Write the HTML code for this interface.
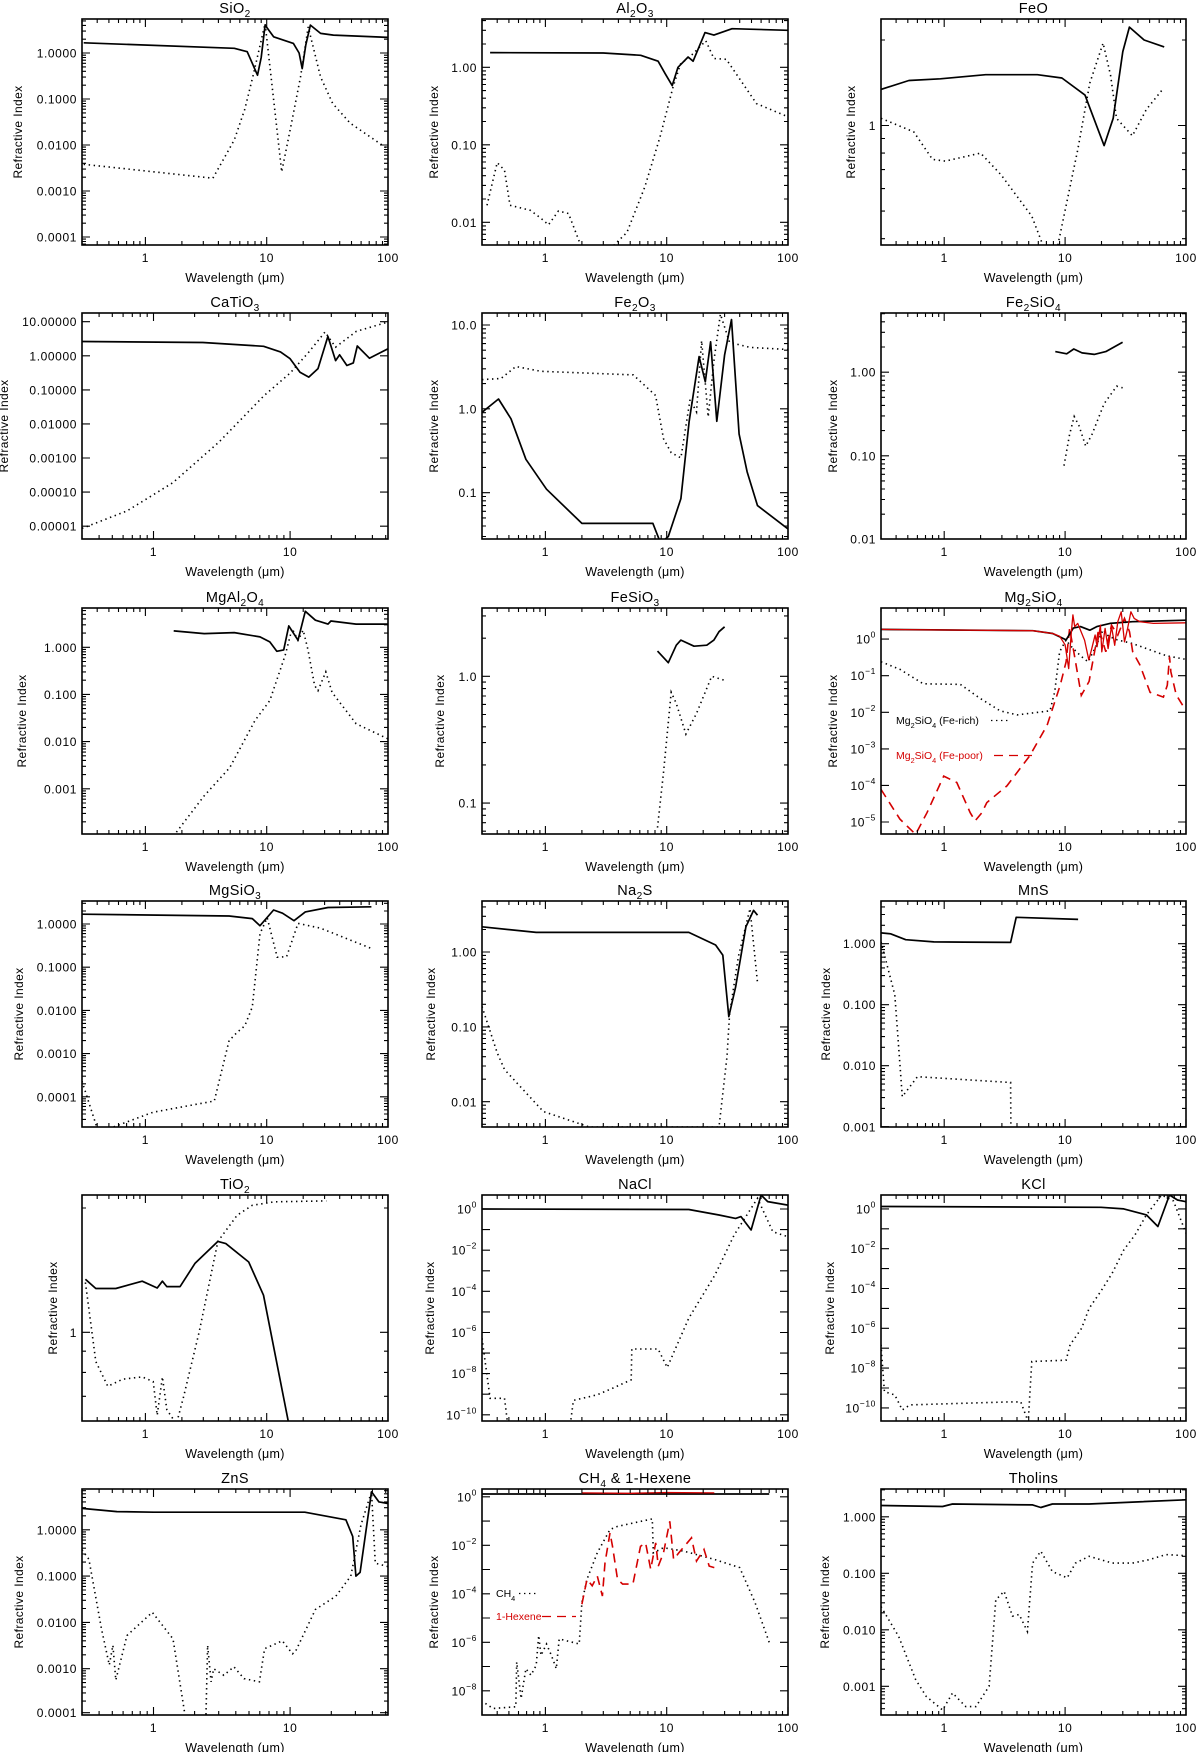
<!DOCTYPE html>
<html><head><meta charset="utf-8"><title>Refractive indices</title>
<style>
html,body{margin:0;padding:0;background:#fff;}
svg{display:block;font-family:"Liberation Sans",sans-serif;}
</style></head>
<body>
<svg id="fig" xmlns="http://www.w3.org/2000/svg" width="1200" height="1752" viewBox="0 0 1200 1752"></svg>
<script>
// ---------- data (wavelength in micron, refractive index n (solid) and k (dotted)) ----------
const sio2_n_wl=[0.31,5.4,6.9,7.6,8.4,9.0,9.7,11.4,16.6,18.5,19.6,21,22.9,27.8,35.5,100];
const sio2_n=[1.67,1.27,1.07,0.6,0.33,0.8,4.06,2.26,1.62,1.0,0.46,1.5,4.06,2.68,2.46,2.19];
const sio2_k_wl=[0.31,3.6,5.4,6.6,7.8,9.7,13.3,16,19,22,27.8,35,48.7,97];
const sio2_k=[0.0038,0.0019,0.0129,0.06,0.36,4.4,0.0026,0.03,0.3,3.7,0.3,0.08,0.03,0.0086];

const al2o3_n_wl=[0.35,3,6.1,8.5,9.7,11.1,12.4,15,16.5,20.7,24.5,34.6,100];
const al2o3_n=[1.55,1.53,1.43,1.2,0.83,0.58,1.0,1.36,1.2,2.8,2.6,3.15,3.0];
const al2o3_k_wl=[0.33,0.40,0.46,0.51,0.75,0.91,1.06,1.28,1.55,1.9,2.1,3.5,4.7,6.6,8.8,11.3,13,16.5,21,24.5,31,55,100];
const al2o3_k=[0.0166,0.059,0.047,0.0166,0.0143,0.0114,0.0093,0.014,0.013,0.0057,0.004,0.0047,0.0074,0.0286,0.126,0.56,1.1,1.5,2.2,1.3,1.27,0.34,0.23];

const feo_n_wl=[0.3,0.51,0.93,2.2,5.9,9.4,14.6,21,25,30,34,45,66];
const feo_n=[1.34,1.44,1.46,1.51,1.51,1.47,1.28,0.85,1.06,1.82,2.22,2.0,1.89];
const feo_k_wl=[0.3,0.56,0.8,1.02,2.0,2.96,5.3,6.7,8.6,12.7,16,20.6,23.8,26.6,36,47,64];
const feo_k=[1.06,0.95,0.76,0.75,0.80,0.67,0.48,0.37,0.37,0.82,1.41,1.95,1.5,1.06,0.92,1.14,1.34];

const catio3_n_wl=[0.3,2.3,6.4,8.5,10,11.8,13.7,16,18.9,21.5,23,26,29,31,38,52];
const catio3_n=[2.63,2.45,1.9,1.3,0.82,0.33,0.236,0.42,3.7,0.72,1.07,0.52,0.62,1.93,0.85,1.6];
const catio3_k_wl=[0.3,0.64,1.39,3.0,6.45,10,13.7,18,21.5,30.5,52];
const catio3_k=[8.6e-6,2.8e-5,1.9e-4,2.9e-3,0.068,0.31,1.28,5.0,1.8,5.2,9.8];

const fe2o3_n_wl=[0.3,0.41,0.52,0.69,1.02,2.0,7.7,8.9,10.3,13.1,15.3,18.5,20.8,23,25.9,30,34.2,39.5,46,56,100];
const fe2o3_n=[0.91,1.31,0.76,0.25,0.11,0.043,0.043,0.025,0.03,0.085,0.7,4.2,2.1,6.3,0.71,4.4,11.6,0.5,0.178,0.07,0.037];
const fe2o3_k_wl=[0.3,0.43,0.57,0.92,5.3,8.1,9.4,10.9,13.1,15.6,17.6,19.4,22,24.6,27.7,33,48.6,100];
const fe2o3_k=[2.23,2.3,3.2,2.8,2.54,1.44,0.44,0.30,0.26,1.3,0.92,6.5,0.8,3.9,13.5,6.2,5.4,5.1];

const fe2sio4_n_wl=[8.3,10.3,11.8,13.8,17.4,21.7,29.9];
const fe2sio4_n=[1.76,1.66,1.89,1.7,1.63,1.76,2.28];
const fe2sio4_k_wl=[9.8,10.9,11.9,13,14.8,16.7,21,26.7,29.9];
const fe2sio4_k=[0.076,0.18,0.295,0.23,0.13,0.18,0.42,0.68,0.65];

const mgal2o4_n_wl=[1.71,3.05,5.4,8.8,10.6,12.1,13.8,15.2,18.1,20.8,25.2,32,33.8,54.6,100];
const mgal2o4_n=[2.22,1.95,2.05,1.66,1.3,0.82,0.88,2.84,1.41,5.8,3.75,3.1,3.6,3.1,3.1];
const mgal2o4_k_wl=[1.8,3.05,4.95,8.0,10.6,14.2,16.2,18.1,20,21.9,24.8,26.5,30.7,34.6,54.6,100];
const mgal2o4_k=[1.2e-4,7.1e-4,2.8e-3,0.028,0.074,0.68,2.5,1.4,2.3,0.88,0.155,0.12,0.3,0.11,0.024,0.0114];

const fesio3_n_wl=[8.4,10.3,12,13.1,16.8,21.4,24.5,27,30];
const fesio3_n=[1.58,1.28,1.76,1.93,1.73,1.76,1.93,2.25,2.46];
const fesio3_k_wl=[8.4,9.4,10.9,12,14.4,17.6,23.5,30];
const fesio3_k=[0.064,0.174,0.75,0.61,0.35,0.51,1.0,0.93];

const mg2sio4_rich_n_wl=[0.3,5.4,7.9,9.6,10.2,11.7,13.4,16,18.3,23.5,36,100];
const mg2sio4_rich_n=[1.85,1.7,1.43,1.05,0.95,2.0,2.2,1.75,2.2,2.7,3.0,3.3];
const mg2sio4_rich_k_wl=[0.3,0.43,0.67,1.36,1.98,2.9,4.0,7.5,8.2,9.0,10.2,10.9,13.4,15.5,18.0,20.6,22.9,27,36,69,100];
const mg2sio4_rich_k=[0.24,0.15,0.06,0.058,0.024,0.011,0.0085,0.011,0.036,0.45,0.95,0.7,0.35,0.24,0.64,1.8,1.2,0.95,0.76,0.35,0.28];
const mg2sio4_poor_n_wl=[0.3,5.4,7.9,9.0,9.99,10.7,11.2,11.6,12.0,12.7,14.5,15.7,16.5,17.7,18.4,19.6,20.1,21.4,22.7,24.2,25.7,27.3,29.1,31,32.9,35,37.3,41.5,53.7,100];
const mg2sio4_poor_n=[1.85,1.7,1.43,1.2,0.7,0.156,1.3,4.6,2.2,2.7,0.93,0.27,0.5,1.3,0.62,2.4,0.45,1.97,0.55,2.2,0.68,3.0,5.6,0.84,1.97,5.6,3.7,3.0,2.7,2.8];
const mg2sio4_poor_k_wl=[0.3,0.43,0.58,0.72,0.99,1.27,1.64,1.8,2.05,2.25,3.3,5.1,7.1,9.1,10.2,10.9,11.8,13.6,15.8,17.3,19,21.7,24.2,27.3,31,34.1,36.2,41.5,50.5,65,70,73,75,83,100];
const mg2sio4_poor_k=[7.8e-5,1.2e-5,4.6e-6,1.8e-5,1.8e-4,1.2e-4,1.8e-5,1.07e-5,1.8e-5,3.4e-5,9.7e-5,6.5e-4,4.4e-3,0.055,0.24,1.97,0.45,0.029,0.07,0.36,1.97,0.45,2.4,1.29,3.7,1.6,0.45,0.2,0.035,0.026,0.055,0.33,0.126,0.03,0.011];

const mgsio3_n_wl=[0.3,4.9,7.6,8.8,11.4,13.5,16.8,20.8,32,73];
const mgsio3_n=[1.68,1.53,1.33,0.91,2.1,1.77,1.19,1.9,2.4,2.5];
const mgsio3_k_wl=[0.3,0.41,0.57,1.16,3.7,4.9,5.7,6.6,7.6,8.8,10.1,12.2,14.6,18.1,27.8,73];
const mgsio3_k=[2.3e-4,1.5e-5,2.1e-5,4.4e-5,8e-5,2e-3,3.1e-3,4.4e-3,0.012,0.6,1.4,0.17,0.175,1.03,0.8,0.27];

const na2s_n_wl=[0.3,0.84,15.2,25.3,29,32.5,37,45,52,56];
const na2s_n=[2.17,1.83,1.83,1.24,0.91,0.137,0.34,2.17,3.6,3.1];
const na2s_k_wl=[0.3,0.4,0.46,0.96,2.3,27,31.4,33,39,48.6,56];
const na2s_k=[0.187,0.045,0.027,7.4e-3,4.6e-3,4.6e-3,0.04,0.15,0.87,3.8,0.39];

const mns_n_wl=[0.3,0.36,0.48,0.82,1.44,3.54,3.94,12.8];
const mns_n=[1.5,1.45,1.16,1.07,1.06,1.05,2.7,2.5];
const mns_k_wl=[0.3,0.39,0.45,0.6,3.54,3.56];
const mns_k=[1.07,0.146,3.1e-3,6.6e-3,5.3e-3,9e-4];

const tio2_n_wl=[0.32,0.39,0.57,0.94,1.25,1.38,1.5,1.93,2.57,3.96,4.6,7.1,9.4,15.2];
const tio2_n=[1.345,1.277,1.277,1.33,1.28,1.33,1.29,1.29,1.47,1.66,1.64,1.48,1.23,0.6];
const tio2_k_wl=[0.32,0.39,0.49,0.65,0.94,1.16,1.25,1.38,1.5,1.8,2.07,2.77,3.96,5.7,7.6,11.6,31];
const tio2_k=[1.32,0.85,0.74,0.77,0.78,0.76,0.63,0.78,0.65,0.6,0.70,1.0,1.66,1.92,2.03,2.07,2.08];

const nacl_n_wl=[0.3,15.2,27,37,41,49.6,60,68,100];
const nacl_n=[1.0,0.95,0.51,0.35,0.43,0.096,4.8,2.3,1.55];
const nacl_k_wl=[0.3,0.35,0.46,0.49,1.6,1.7,2.67,3.6,5.1,5.15,8.5,10.1,15.2,25,36,56,75,100];
const nacl_k_log10=[-6.28,-9.2,-9.2,-10.5,-10.5,-9.3,-9.03,-8.7,-8.3,-6.8,-6.8,-7.7,-5.3,-3.2,-1.26,0.52,-1.1,-1.35];

const kcl_n_wl=[0.3,19.8,30.6,47,58.6,73,85,100];
const kcl_n=[1.32,1.2,1.0,0.5,0.13,5,2.8,2.3];
const kcl_k_wl=[0.3,0.32,0.39,0.45,0.52,3.45,4.3,4.95,5.3,10.2,11,13.7,15.8,19.7,24.5,30.6,37.9,47,63,78.6,100];
const kcl_k_log10=[-6.83,-9.18,-9.35,-10.1,-9.85,-9.7,-9.7,-10.7,-7.67,-7.6,-6.83,-6,-5,-4.15,-3.23,-2.06,-1.3,-0.3,0.7,0.4,-1.22];

const zns_n_wl=[0.3,0.54,1,12.8,25.6,28.7,30.3,32.5,39.4,44.6,52];
const zns_n=[2.9,2.47,2.4,2.4,1.64,0.72,0.1,0.12,6.6,4.0,3.7];
const zns_k_wl=[0.3,0.337,0.417,0.475,0.505,0.53,0.64,0.98,1.39,1.72,2.42,2.49,2.64,2.76,3.27,3.88,4.6,5.96,6.5,8.77,10.4,10.9,15.3,21.6,27.8,33,39.4,42,52];
const zns_k=[0.37,0.23,7.2e-3,1.2e-3,3.2e-3,5.7e-4,5.2e-3,0.0165,4.4e-3,8e-5,8e-5,3.2e-3,5.2e-4,1.0e-3,7.2e-4,1.1e-3,6.1e-4,5.2e-4,2.7e-3,4e-3,2.1e-3,2.3e-3,0.019,0.037,0.1,1.28,6.6,0.19,0.16];

const ch4_n_wl=[0.3,70];
const ch4_n=[1.3,1.3];
const hexene_n_wl=[2.0,5,10,24.7];
const hexene_n=[1.45,1.4,1.5,1.45];
const ch4_k_wl=[0.32,0.37,0.57,0.58,0.63,0.69,0.76,0.84,0.88,0.92,1.02,1.12,1.23,1.3,1.9,2.0,2.2,2.68,3.41,3.93,7.6,7.75,9.4,13.8,24.7,40,53.4,70];
const ch4_k_log10=[-8.52,-8.73,-8.66,-6.82,-8.32,-7.09,-7.36,-6.95,-5.72,-6.54,-6.07,-6.54,-7.09,-5.86,-6.07,-4.36,-3.4,-2.31,-1.35,-1.22,-0.91,-2.31,-2.1,-2.24,-2.58,-2.92,-4.36,-6.0];
const hexene_k_wl=[2.0,2.2,2.43,2.68,2.95,3.1,3.41,3.57,3.93,4.33,5.26,6.08,6.7,7.38,8.12,8.52,9.4,10.6,11.4,12.6,16.0,17.6,20.3,22.4,24.7];
const hexene_k_log10=[-4.43,-3.4,-3.67,-3.27,-4.09,-2.72,-1.49,-2.04,-3.4,-3.6,-3.6,-2.04,-1.9,-2.99,-1.9,-2.86,-2.31,-1.01,-2.58,-2.31,-1.69,-2.65,-2.17,-2.86,-2.92];

const tholins_n_wl=[0.3,0.97,1.17,5.38,6.29,7.85,15.8,36,100];
const tholins_n=[1.58,1.52,1.68,1.62,1.46,1.68,1.68,1.82,2.0];
const tholins_k_wl=[0.3,0.42,0.58,0.71,0.97,1.17,1.51,1.83,2.35,2.67,3.13,3.67,4.17,4.88,5.38,6.29,7.85,10.4,12.2,15.8,24.6,36,49.5,68,100];
const tholins_k_log10=[-1.59,-2.12,-2.88,-3.18,-3.42,-3.12,-3.36,-3.36,-3.0,-1.47,-1.32,-1.76,-1.73,-2.03,-0.82,-0.61,-0.97,-1.08,-0.82,-0.7,-0.82,-0.82,-0.76,-0.67,-0.69];

const fromLog = a => a.map(v => Math.pow(10, v));

// ---------- panel layout ----------
const COLS=[82,482,881], ROWS=[19,313,608,901,1195,1489], PW=306, PH=226;
const panels=[
 {id:'sio2',t:'SiO_2',c:0,r:0,x:[0.3,100],y:[6.7e-5,5.5],yo:60,yt:[[1,'1.0000'],[0.1,'0.1000'],[0.01,'0.0100'],[0.001,'0.0010'],[1e-4,'0.0001']],s:[[sio2_k_wl,sio2_k,'dot'],[sio2_n_wl,sio2_n,'solid']]},
 {id:'al2o3',t:'Al_2O_3',c:1,r:0,x:[0.3,100],y:[0.0051,4.2],yo:44,yt:[[1,'1.00'],[0.1,'0.10'],[0.01,'0.01']],s:[[al2o3_k_wl,al2o3_k,'dot'],[al2o3_n_wl,al2o3_n,'solid']]},
 {id:'feo',t:'FeO',c:2,r:0,x:[0.3,100],y:[0.38,2.37],yo:26,yt:[[1,'1']],s:[[feo_k_wl,feo_k,'dot'],[feo_n_wl,feo_n,'solid']]},
 {id:'catio3',t:'CaTiO_3',c:0,r:1,x:[0.3,52],y:[4.2e-6,18],yo:74,yt:[[10,'10.00000'],[1,'1.00000'],[0.1,'0.10000'],[0.01,'0.01000'],[0.001,'0.00100'],[1e-4,'0.00010'],[1e-5,'0.00001']],s:[[catio3_k_wl,catio3_k,'dot'],[catio3_n_wl,catio3_n,'solid']]},
 {id:'fe2o3',t:'Fe_2O_3',c:1,r:1,x:[0.3,100],y:[0.028,13.9],yo:44,yt:[[10,'10.0'],[1,'1.0'],[0.1,'0.1']],s:[[fe2o3_k_wl,fe2o3_k,'dot'],[fe2o3_n_wl,fe2o3_n,'solid']]},
 {id:'fe2sio4',t:'Fe_2SiO_4',c:2,r:1,x:[0.3,100],y:[0.0101,5.1],yo:44,yt:[[1,'1.00'],[0.1,'0.10'],[0.0101,'0.01']],s:[[fe2sio4_k_wl,fe2sio4_k,'dot'],[fe2sio4_n_wl,fe2sio4_n,'solid']]},
 {id:'mgal2o4',t:'MgAl_2O_4',c:0,r:2,x:[0.3,100],y:[1.1e-4,6.8],yo:56,yt:[[1,'1.000'],[0.1,'0.100'],[0.01,'0.010'],[0.001,'0.001']],s:[[mgal2o4_k_wl,mgal2o4_k,'dot'],[mgal2o4_n_wl,mgal2o4_n,'solid']]},
 {id:'fesio3',t:'FeSiO_3',c:1,r:2,x:[0.3,100],y:[0.057,3.46],yo:38,yt:[[1,'1.0'],[0.1,'0.1']],s:[[fesio3_k_wl,fesio3_k,'dot'],[fesio3_n_wl,fesio3_n,'solid']]},
 {id:'mg2sio4',t:'Mg_2SiO_4',c:2,r:2,x:[0.3,100],y:[4.7e-6,7.1],yo:44,yt:[[1,0],[0.1,-1],[0.01,-2],[0.001,-3],[1e-4,-4],[1e-5,-5]],s:[[mg2sio4_rich_k_wl,mg2sio4_rich_k,'dot'],[mg2sio4_poor_k_wl,mg2sio4_poor_k,'rdash'],[mg2sio4_rich_n_wl,mg2sio4_rich_n,'solid'],[mg2sio4_poor_n_wl,mg2sio4_poor_n,'rsolid']]},
 {id:'mgsio3',t:'MgSiO_3',c:0,r:3,x:[0.3,100],y:[2e-5,3.4],yo:59,yt:[[1,'1.0000'],[0.1,'0.1000'],[0.01,'0.0100'],[0.001,'0.0010'],[1e-4,'0.0001']],s:[[mgsio3_k_wl,mgsio3_k,'dot'],[mgsio3_n_wl,mgsio3_n,'solid']]},
 {id:'na2s',t:'Na_2S',c:1,r:3,x:[0.3,100],y:[0.0046,4.8],yo:47,yt:[[1,'1.00'],[0.1,'0.10'],[0.01,'0.01']],s:[[na2s_k_wl,na2s_k,'dot'],[na2s_n_wl,na2s_n,'solid']]},
 {id:'mns',t:'MnS',c:2,r:3,x:[0.3,100],y:[0.00099,5],yo:51,yt:[[1,'1.000'],[0.1,'0.100'],[0.01,'0.010'],[0.00099,'0.001']],s:[[mns_k_wl,mns_k,'dot'],[mns_n_wl,mns_n,'solid']]},
 {id:'tio2',t:'TiO_2',c:0,r:4,x:[0.3,100],y:[0.61,2.15],yo:25,yt:[[1,'1']],s:[[tio2_k_wl,tio2_k,'dot'],[tio2_n_wl,tio2_n,'solid']]},
 {id:'nacl',t:'NaCl',c:1,r:4,x:[0.3,100],y:[5e-11,4.8],yo:48,yt:[[1,0],[1e-2,-2],[1e-4,-4],[1e-6,-6],[1e-8,-8],[1e-10,-10]],s:[[nacl_k_wl,fromLog(nacl_k_log10),'dot'],[nacl_n_wl,nacl_n,'solid']]},
 {id:'kcl',t:'KCl',c:2,r:4,x:[0.3,100],y:[2.2e-11,5],yo:47,yt:[[1,0],[1e-2,-2],[1e-4,-4],[1e-6,-6],[1e-8,-8],[1e-10,-10]],s:[[kcl_k_wl,fromLog(kcl_k_log10),'dot'],[kcl_n_wl,kcl_n,'solid']]},
 {id:'zns',t:'ZnS',c:0,r:5,x:[0.3,52],y:[1e-4,7.6],yo:59,yt:[[1,'1.0000'],[0.1,'0.1000'],[0.01,'0.0100'],[0.001,'0.0010'],[1.12e-4,'0.0001']],s:[[zns_k_wl,zns_k,'dot'],[zns_n_wl,zns_n,'solid']]},
 {id:'ch4',t:'CH_4 & 1-Hexene',c:1,r:5,x:[0.3,100],y:[1e-9,2.1],yo:44,yt:[[1,0],[1e-2,-2],[1e-4,-4],[1e-6,-6],[1e-8,-8]],s:[[ch4_k_wl,fromLog(ch4_k_log10),'dot'],[hexene_k_wl,fromLog(hexene_k_log10),'rdash'],[ch4_n_wl,ch4_n,'solid'],[hexene_n_wl,hexene_n,'rsolid']]},
 {id:'tholins',t:'Tholins',c:2,r:5,x:[0.3,100],y:[3.1e-4,3.1],yo:52,yt:[[1,'1.000'],[0.1,'0.100'],[0.01,'0.010'],[0.001,'0.001']],s:[[tholins_k_wl,fromLog(tholins_k_log10),'dot'],[tholins_n_wl,tholins_n,'solid']]}
];

const NS='http://www.w3.org/2000/svg';
const svg=document.getElementById('fig');
function mk(tag,attrs,parent){const e=document.createElementNS(NS,tag);for(const k in attrs)e.setAttribute(k,attrs[k]);(parent||svg).appendChild(e);return e;}
function richText(el,str,fs){
  const parts=str.split(/_(\d)/);
  let lowered=false;
  parts.forEach((p,i)=>{
    if(!p)return;
    const ts=mk('tspan',{},el);
    if(i%2===1){ts.setAttribute('font-size',(fs*0.7).toFixed(1));ts.setAttribute('dy','4');lowered=true;}
    else if(lowered){ts.setAttribute('dy','-4');lowered=false;}
    ts.textContent=p;
  });
}
const STY={
 solid:{stroke:'#000','stroke-width':1.7,fill:'none','stroke-linejoin':'round'},
 dot:{stroke:'#000','stroke-width':1.6,fill:'none','stroke-dasharray':'1.4 3.6'},
 rsolid:{stroke:'#d40000','stroke-width':1.3,fill:'none','stroke-linejoin':'round'},
 rdash:{stroke:'#d40000','stroke-width':1.6,fill:'none','stroke-dasharray':'9 6'}
};

panels.forEach((p,pi)=>{
  const L=COLS[p.c], T=ROWS[p.r], W=(p.c===2?305:PW), H=PH;
  const lx0=Math.log10(p.x[0]), lx1=Math.log10(p.x[1]);
  const ly0=Math.log10(p.y[0]), ly1=Math.log10(p.y[1]);
  const X=v=>L+(Math.log10(v)-lx0)/(lx1-lx0)*W;
  const Y=v=>T+(ly1-Math.log10(v))/(ly1-ly0)*H;
  const g=mk('g',{});
  
  
  const cp=mk('clipPath',{id:'cp'+pi},g);
  mk('rect',{x:L,y:T,width:W,height:H},cp);
  const sg=mk('g',{'clip-path':'url(#cp'+pi+')'},g);
  p.s.forEach((s,si)=>{
    const pts=s[0].map((w,i)=>X(w).toFixed(1)+','+Y(s[1][i]).toFixed(1)).join(' ');
    const pl=mk('polyline',Object.assign({points:pts},STY[s[2]]),sg);
    
    
  });
  const fr=mk('rect',{x:L,y:T,width:W,height:H,fill:'none',stroke:'#000','stroke-width':1.6},g);
  
  
  let tk='';
  for(let k=-1;k<=2;k++){for(let d=1;d<=9;d++){const v=d*Math.pow(10,k);
    if(v<p.x[0]*0.999||v>p.x[1]*1.001)continue;const x=X(v).toFixed(1);const len=d===1?8:4;
    tk+=`M${x},${T+H}v${-len}M${x},${T}v${len}`;}}
  const decPx=H/(ly1-ly0);
  for(let k=Math.floor(ly0)-1;k<=Math.ceil(ly1);k++){for(let d=1;d<=9;d++){const v=d*Math.pow(10,k);
    if(v<p.y[0]*0.999||v>p.y[1]*1.001)continue;
    if(d>1&&decPx<40)continue;
    const y=Y(v).toFixed(1);const len=d===1?8:4;
    tk+=`M${L},${y}h${len}M${L+W},${y}h${-len}`;}}
  p.yt.forEach(t=>{const y=Y(t[0]).toFixed(1);tk+=`M${L},${y}h8M${L+W},${y}h-8`;});
  const tp=mk('path',{d:tk,stroke:'#000','stroke-width':1.1,fill:'none'},g);
  
  
  [1,10,100].forEach(v=>{
    if(v<p.x[0]||v>p.x[1]*1.001)return;
    const t=mk('text',{x:X(v),y:T+H+17,'text-anchor':'middle','font-size':12,'letter-spacing':0.6},g);
    
    
    t.textContent=String(v);
  });
  p.yt.forEach(tt=>{
    const t=mk('text',{x:L-5,y:Y(tt[0])+4.5,'text-anchor':'end','font-size':12,'letter-spacing':0.6},g);
    
    
    if(typeof tt[1]==='number'){
      const a=mk('tspan',{},t);a.textContent='10';
      const b=mk('tspan',{dy:-6,'font-size':8.5},t);b.textContent=(tt[1]<0?'\u2212':'')+Math.abs(tt[1]);
    } else t.textContent=tt[1];
  });
  const xt=mk('text',{x:L+W/2,y:T+H+37,'text-anchor':'middle','font-size':12.5,'letter-spacing':0.3},g);
  
  
  xt.textContent='Wavelength (\u03bcm)';
  const yx=L-p.yo, yy=T+H/2;
  const yt=mk('text',{x:yx,y:yy,'text-anchor':'middle','font-size':12,'letter-spacing':0.4,transform:`rotate(-90 ${yx} ${yy})`},g);
  
  
  yt.textContent='Refractive Index';
  const ti=mk('text',{x:L+W/2,y:T-6,'text-anchor':'middle','font-size':14.5,'letter-spacing':0.4},g);
  
  
  richText(ti,p.t,14.5);
});

function legend(x,y,label,color,style,lx0,lx1,name){
  const g=mk('g',{});
  
  
  const t=mk('text',{x:x,y:y,'font-size':10.5,fill:color},g);
  richText(t,label,10.5);
  mk('line',Object.assign({x1:lx0,y1:y-3.5,x2:lx1,y2:y-3.5},STY[style],{stroke:color,'stroke-width':1.3}),g);
}
legend(896,724,'Mg_2SiO_4 (Fe-rich)','#000','dot',991,1011,'mg2sio4-legend-fe-rich');
legend(896,759,'Mg_2SiO_4 (Fe-poor)','#d40000','rdash',994,1032,'mg2sio4-legend-fe-poor');
legend(496,1597,'CH_4','#000','dot',519,539,'ch4-legend-ch4');
legend(496,1620,'1-Hexene','#d40000','rdash',542,576,'ch4-legend-hexene');
</script>
</body></html>
